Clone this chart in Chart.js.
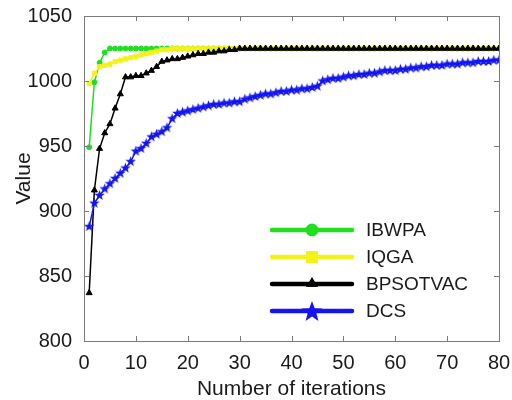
<!DOCTYPE html>
<html>
<head>
<meta charset="utf-8">
<script src="https://cdn.jsdelivr.net/npm/chart.js@4.4.0/dist/chart.umd.min.js"></script>
<style>
  html, body { margin: 0; padding: 0; background: #fff; }
  #wrap { width: 512px; height: 400px; }
</style>
</head>
<body>
<div id="wrap"><canvas id="convChart"></canvas></div>
<script>
// ---------------------- data ----------------------
const iterations = [
  1, 2, 3, 4, 5, 6, 7, 8, 9, 10, 11, 12, 13, 14, 15, 16, 17, 18, 19, 20,
  21, 22, 23, 24, 25, 26, 27, 28, 29, 30, 31, 32, 33, 34, 35, 36, 37, 38, 39, 40,
  41, 42, 43, 44, 45, 46, 47, 48, 49, 50, 51, 52, 53, 54, 55, 56, 57, 58, 59, 60,
  61, 62, 63, 64, 65, 66, 67, 68, 69, 70, 71, 72, 73, 74, 75, 76, 77, 78, 79, 80
];

const ibwpa = [
  949, 999, 1014, 1022, 1025, 1025, 1025, 1025, 1025, 1025, 1025, 1025, 1025, 1025, 1025, 1025, 1025, 1025, 1025, 1025,
  1025, 1025, 1025, 1025, 1025, 1025, 1025, 1025, 1025, 1025, 1025, 1025, 1025, 1025, 1025, 1025, 1025, 1025, 1025, 1025,
  1025, 1025, 1025, 1025, 1025, 1025, 1025, 1025, 1025, 1025, 1025, 1025, 1025, 1025, 1025, 1025, 1025, 1025, 1025, 1025,
  1025, 1025, 1025, 1025, 1025, 1025, 1025, 1025, 1025, 1025, 1025, 1025, 1025, 1025, 1025, 1025, 1025, 1025, 1025, 1025
];

const iqga = [
  998, 1006, 1011, 1012, 1013, 1015, 1016, 1017, 1018, 1019, 1020, 1021, 1022, 1023, 1024, 1024, 1025, 1025, 1025, 1025,
  1025, 1025, 1025, 1025, 1025, 1025, 1025, 1025, 1025, 1025, 1025, 1025, 1025, 1025, 1025, 1025, 1025, 1025, 1025, 1025,
  1025, 1025, 1025, 1025, 1025, 1025, 1025, 1025, 1025, 1025, 1025, 1025, 1025, 1025, 1025, 1025, 1025, 1025, 1025, 1025,
  1025, 1025, 1025, 1025, 1025, 1025, 1025, 1025, 1025, 1025, 1025, 1025, 1025, 1025, 1025, 1025, 1025, 1025, 1025, 1025
];

const bpsotvac = [
  837, 916, 948, 960, 967, 979, 990, 1003, 1003, 1004, 1004, 1006, 1008, 1011, 1015, 1016, 1017, 1017, 1018, 1019,
  1020, 1021, 1021, 1022, 1022, 1023, 1023, 1024, 1024, 1025, 1025, 1025, 1025, 1025, 1025, 1025, 1025, 1025, 1025, 1025,
  1025, 1025, 1025, 1025, 1025, 1025, 1025, 1025, 1025, 1025, 1025, 1025, 1025, 1025, 1025, 1025, 1025, 1025, 1025, 1025,
  1025, 1025, 1025, 1025, 1025, 1025, 1025, 1025, 1025, 1025, 1025, 1025, 1025, 1025, 1025, 1025, 1025, 1025, 1025, 1025
];

const dcs = [
  888, 906, 912, 917, 921, 925, 929, 933, 938, 946, 948, 952, 957, 959, 961, 964, 971, 975, 976, 977,
  978, 979, 980, 981, 982, 982, 983, 983, 984, 984, 986, 987, 988, 989, 990, 990, 991, 992, 992, 993,
  993, 994, 994, 995, 996, 1000, 1001, 1002, 1002, 1003, 1004, 1004, 1005, 1005, 1006, 1006, 1007, 1008, 1008, 1008,
  1009, 1009, 1010, 1010, 1011, 1011, 1012, 1012, 1012, 1013, 1013, 1013, 1014, 1014, 1014, 1015, 1015, 1015, 1016, 1016
];

const seriesNames = ['IBWPA', 'IQGA', 'BPSOTVAC', 'DCS'];
const xTicks = [0, 10, 20, 30, 40, 50, 60, 70, 80];
const yTicks = [800, 850, 900, 950, 1000, 1050];

// ---------------------- styles ----------------------
const GREEN = '#1ee01e';
const YELLOW = '#f2f21c';
const BLACK = '#000000';
const BLUE = '#1414f0';
const FONT = "'Liberation Sans', Arial, sans-serif";

// five-point star used as point style
function makeStar(r, color) {
    const c = document.createElement('canvas');
    const size = Math.ceil(r * 2 + 2);
    c.width = size;
    c.height = size;
    const g = c.getContext('2d');
    drawStar(g, size / 2, size / 2, r, color);
    return c;
}

function drawStar(g, cx, cy, r, color) {
    const inner = r * 0.42;
    g.beginPath();
    for (let i = 0; i < 10; i++) {
        const rad = i % 2 === 0 ? r : inner;
        const a = -Math.PI / 2 + i * Math.PI / 5;
        const px = cx + rad * Math.cos(a);
        const py = cy + rad * Math.sin(a);
        if (i === 0) g.moveTo(px, py); else g.lineTo(px, py);
    }
    g.closePath();
    g.fillStyle = color;
    g.fill();
}

const smallStar = makeStar(5.5, BLUE);

// ---------------------- frame + inward ticks ----------------------
const framePlugin = {
    id: 'frame',
    afterDraw(chart) {
        const { ctx, chartArea: a } = chart;
        const xs = chart.scales.x;
        const ys = chart.scales.y;
        ctx.save();
        ctx.strokeStyle = '#7a7a7a';
        ctx.lineWidth = 1;
        ctx.strokeRect(a.left + 0.5, a.top + 0.5, a.right - a.left, a.bottom - a.top);
        ctx.beginPath();
        xTicks.forEach(v => {
            const px = Math.round(xs.getPixelForValue(v)) + 0.5;
            ctx.moveTo(px, a.bottom);
            ctx.lineTo(px, a.bottom - 5);
            ctx.moveTo(px, a.top);
            ctx.lineTo(px, a.top + 5);
        });
        yTicks.forEach(v => {
            const py = Math.round(ys.getPixelForValue(v)) + 0.5;
            ctx.moveTo(a.left, py);
            ctx.lineTo(a.left + 5, py);
            ctx.moveTo(a.right, py);
            ctx.lineTo(a.right - 5, py);
        });
        ctx.stroke();
        ctx.restore();
    }
};

// ---------------------- legend (matlab style) ----------------------
const legendPlugin = {
    id: 'matLegend',
    afterDraw(chart) {
        const { ctx } = chart;
        const colors = [GREEN, YELLOW, BLACK, BLUE];
        const x0 = 272, x1 = 352, xm = 312, xt = 366;
        const y0 = 230, dy = 27;
        ctx.save();
        seriesNames.forEach((name, i) => {
            const y = y0 + i * dy;
            ctx.strokeStyle = colors[i];
            ctx.fillStyle = colors[i];
            ctx.lineWidth = 4.5;
            ctx.lineCap = 'round';
            ctx.beginPath();
            ctx.moveTo(x0, y);
            ctx.lineTo(x1, y);
            ctx.stroke();
            if (i === 0) {
                ctx.beginPath();
                ctx.arc(xm, y, 6.5, 0, Math.PI * 2);
                ctx.fill();
            } else if (i === 1) {
                ctx.fillRect(xm - 6, y - 6, 12, 12);
            } else if (i === 2) {
                ctx.beginPath();
                ctx.moveTo(xm, y - 7);
                ctx.lineTo(xm + 6, y + 3);
                ctx.lineTo(xm - 6, y + 3);
                ctx.closePath();
                ctx.fill();
            } else {
                drawStar(ctx, xm, y + 1, 11, BLUE);
            }
            ctx.fillStyle = '#1a1a1a';
            ctx.font = '19px ' + FONT;
            ctx.textAlign = 'left';
            ctx.textBaseline = 'middle';
            ctx.fillText(name, xt, y + 1);
        });
        ctx.restore();
    }
};

// ---------------------- chart ----------------------
const ctxChart = document.getElementById('convChart');

const datasets = [
    {
        label: seriesNames[0], data: ibwpa, order: 4,
        borderColor: GREEN, backgroundColor: GREEN, borderWidth: 1.5,
        pointStyle: 'circle', pointRadius: 2.5, pointBorderWidth: 1
    },
    {
        label: seriesNames[1], data: iqga, order: 3,
        borderColor: YELLOW, backgroundColor: YELLOW, borderWidth: 1.5,
        pointStyle: 'rect', pointRadius: 3, pointBorderWidth: 1
    },
    {
        label: seriesNames[2], data: bpsotvac, order: 2,
        borderColor: BLACK, backgroundColor: BLACK, borderWidth: 1.5,
        pointStyle: 'triangle', pointRadius: 3.5, pointBorderWidth: 1
    },
    {
        label: seriesNames[3], data: dcs, order: 1,
        borderColor: BLUE, backgroundColor: BLUE, borderWidth: 1.5,
        pointStyle: smallStar, pointRadius: 5
    }
];

new Chart(ctxChart, {
    type: 'line',
    data: { labels: iterations, datasets: datasets },
    options: {
        responsive: true,
        maintainAspectRatio: false,
        animation: false,
        layout: { padding: { left: 0, top: 15, right: 13, bottom: 0 } },
        plugins: {
            legend: { display: false },
            tooltip: { enabled: false }
        },
        elements: { line: { tension: 0 } },
        scales: {
            x: {
                type: 'linear',
                min: 0,
                max: 80,
                afterFit: s => { s.height = 59; s.paddingLeft = 0; s.paddingRight = 0; },
                afterBuildTicks: s => { s.ticks = xTicks.map(v => ({ value: v })); },
                grid: { display: false },
                border: { display: false },
                ticks: {
                    padding: 2,
                    color: '#1a1a1a',
                    font: { family: FONT, size: 20 },
                    maxRotation: 0,
                    callback: v => String(v)
                },
                title: {
                    display: true,
                    text: 'Number of iterations',
                    color: '#1a1a1a',
                    font: { family: FONT, size: 21, lineHeight: 1.0 },
                    padding: { top: 0, bottom: 0 }
                }
            },
            y: {
                min: 800,
                max: 1050,
                afterFit: s => { s.width = 84; },
                afterBuildTicks: s => { s.ticks = yTicks.map(v => ({ value: v })); },
                grid: { display: false },
                border: { display: false },
                ticks: {
                    padding: 4,
                    color: '#1a1a1a',
                    font: { family: FONT, size: 20 },
                    callback: v => String(v)
                },
                title: {
                    display: true,
                    text: 'Value',
                    color: '#1a1a1a',
                    font: { family: FONT, size: 21 },
                    padding: { top: 12, bottom: 0 }
                }
            }
        }
    },
    plugins: [framePlugin, legendPlugin]
});
</script>
</body>
</html>
